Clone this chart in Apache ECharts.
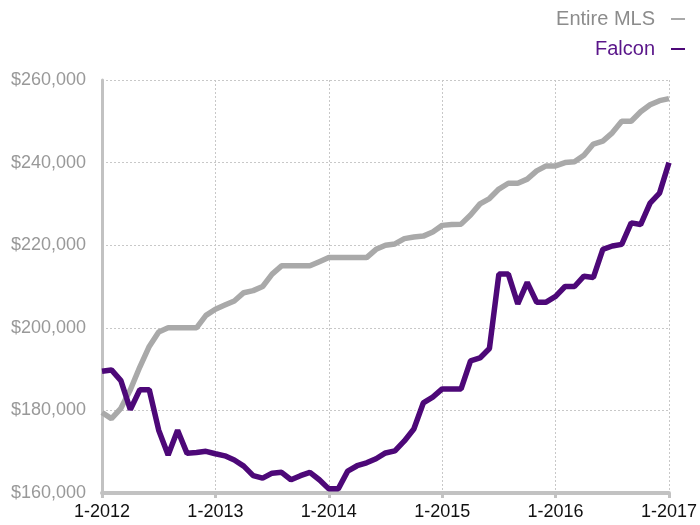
<!DOCTYPE html>
<html>
<head>
<meta charset="utf-8">
<script src="https://cdn.jsdelivr.net/npm/echarts@6/dist/echarts.min.js"></script>
<style>
  html, body { margin: 0; padding: 0; background: #fff; }
  #main { width: 700px; height: 525px; }
</style>
</head>
<body>
<div id="main"></div>
<script>
// 月份 1-2012 .. 1-2017
const months = []
for (let y = 2012; y <= 2017; y++) {
  for (let m = 1; m <= 12; m++) {
    if (y === 2017 && m > 1) break
    months.push(m + '-' + y)
  }
}

const seriesNames = ['Entire MLS', 'Falcon']

const entireMls = [
  179500, 178000, 180500, 185000, 190500, 195500, 199000, 200000, 200000, 200000, 200000, 203000,
  204500, 205500, 206500, 208500, 209000, 210000, 213000, 215000, 215000, 215000, 215000, 216000,
  217000, 217000, 217000, 217000, 217000, 219000, 220000, 220300, 221600, 222000, 222200, 223200,
  224800, 225000, 225100, 227300, 230000, 231300, 233600, 235000, 235000, 236000, 238000, 239200,
  239200, 240000, 240200, 241800, 244500, 245200, 247200, 250000, 250000, 252300, 254000, 255000,
  255500
]

const falcon = [
  189500, 189800, 187200, 180200, 185000, 185000, 175200, 169200, 175200, 169600, 169800, 170100,
  169500, 169000, 168000, 166500, 164200, 163600, 164800, 165000, 163200, 164200, 165000, 163200,
  161000, 161000, 165300, 166600, 167300, 168300, 169700, 170200, 172600, 175500, 181800, 183200,
  185200, 185200, 185200, 192000, 192700, 195000, 213000, 213000, 205800, 211000, 206200, 206200,
  207600, 210000, 210000, 212500, 212200, 219000, 219800, 220200, 225400, 225000, 230200, 232600,
  240000
]

const colors = ['#a9a9a9', '#4d0878']
const font = "'Helvetica Neue', 'Liberation Sans', Arial, sans-serif"

// 只显示每年一月
function yearOnly(i) {
  return i % 12 === 0
}

const chart = echarts.init(document.getElementById('main'))

const option = {
  animation: false,
  color: colors,
  grid: {
    left: 102,
    right: 28,
    top: 80,
    bottom: 32
  },
  legend: {
    orient: 'vertical',
    right: 10,
    top: 4,
    align: 'right',
    itemGap: 10,
    itemWidth: 14,
    itemHeight: 2,
    icon: 'rect',
    selectedMode: false,
    data: [
      { name: seriesNames[0], textStyle: { color: '#8c8c8c' } },
      { name: seriesNames[1], textStyle: { color: '#5a168a' } }
    ],
    textStyle: {
      fontFamily: font,
      fontSize: 20,
      padding: [0, 11, 0, 0]
    }
  },
  xAxis: {
    type: 'category',
    boundaryGap: false,
    data: months,
    axisLine: {
      show: true,
      lineStyle: { color: '#c2c2c2', width: 4 }
    },
    axisTick: {
      show: true,
      length: 5,
      interval: yearOnly,
      lineStyle: { color: '#c2c2c2', width: 3 }
    },
    axisLabel: {
      interval: yearOnly,
      color: '#111',
      fontFamily: font,
      fontSize: 18,
      margin: 10
    },
    splitLine: {
      show: true,
      interval: yearOnly,
      lineStyle: { color: '#c8c8c8', type: [2, 2], width: 1 }
    }
  },
  yAxis: {
    type: 'value',
    min: 160000,
    max: 260000,
    interval: 20000,
    axisLine: {
      show: true,
      lineStyle: { color: '#c2c2c2', width: 3 }
    },
    axisTick: { show: false },
    axisLabel: {
      color: '#999',
      fontFamily: font,
      fontSize: 18,
      margin: 16,
      formatter: function (v) {
        return '$' + v.toLocaleString('en-US')
      }
    },
    splitLine: {
      show: true,
      lineStyle: { color: '#c8c8c8', type: [2, 2], width: 1 }
    }
  },
  series: [
    {
      name: seriesNames[0],
      type: 'line',
      data: entireMls,
      symbol: 'none',
      lineStyle: { width: 5.5, color: colors[0] },
      z: 2
    },
    {
      name: seriesNames[1],
      type: 'line',
      data: falcon,
      symbol: 'none',
      lineStyle: { width: 5.5, color: colors[1] },
      z: 3
    }
  ]
}

chart.setOption(option)
</script>
</body>
</html>
